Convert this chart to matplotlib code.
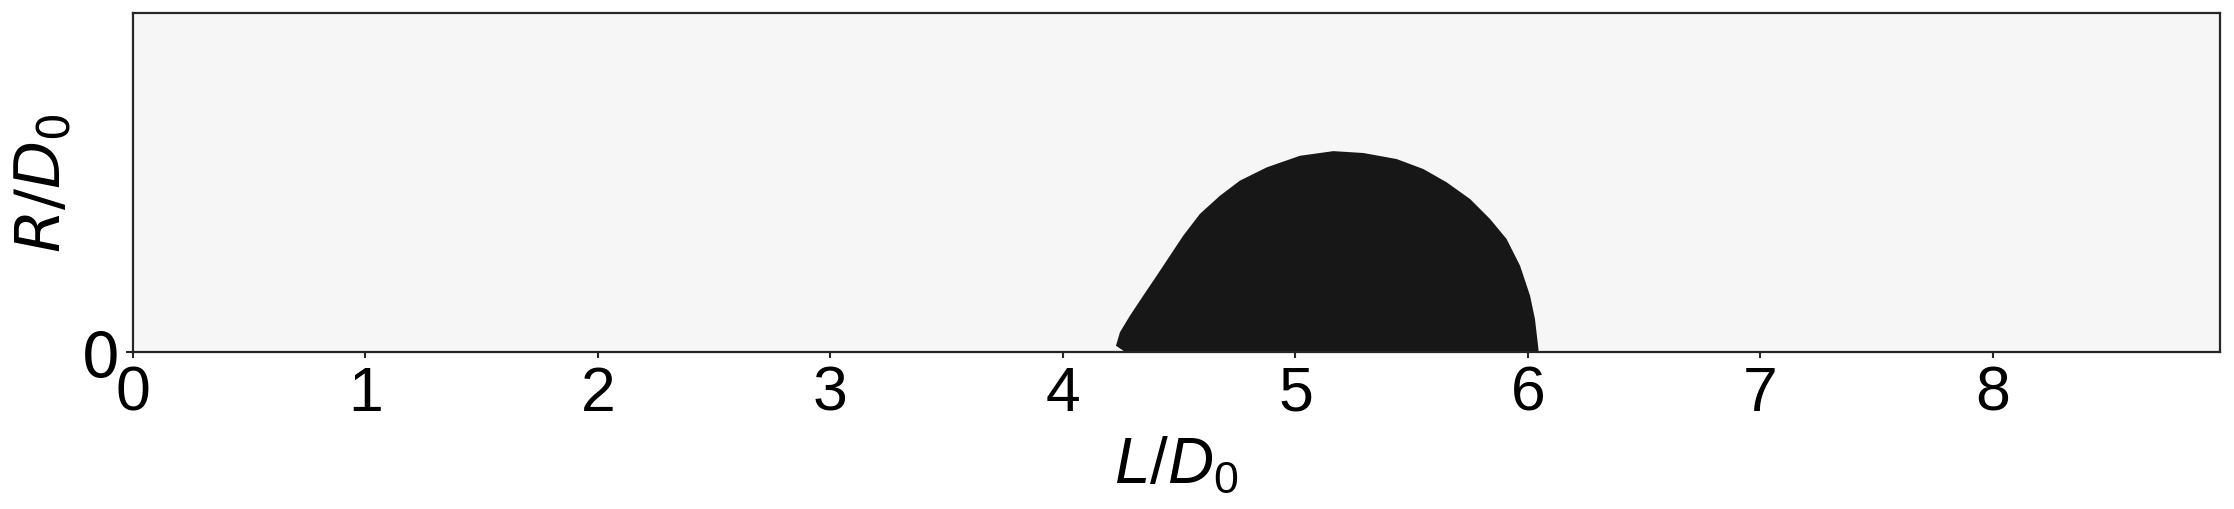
import numpy as np
import matplotlib.pyplot as plt

# droplet profile (L/D0, R/D0)
L_prof = [4.228, 4.245, 4.288, 4.345, 4.403, 4.460, 4.517, 4.589, 4.675, 4.761,
          4.876, 5.019, 5.163, 5.292, 5.435, 5.550, 5.650, 5.751, 5.837, 5.908,
          5.966, 6.009, 6.030, 6.045]
R_prof = [0.027, 0.085, 0.156, 0.242, 0.328, 0.414, 0.500, 0.594, 0.672, 0.737,
          0.794, 0.844, 0.864, 0.856, 0.830, 0.787, 0.730, 0.658, 0.572, 0.486,
          0.371, 0.242, 0.142, 0.013]
x_ticks = [0, 1, 2, 3, 4, 5, 6, 7, 8]
y_ticks = [0]
x_max = 8.976
y_max = 1.458

plt.rcParams['mathtext.fontset'] = 'custom'
plt.rcParams['mathtext.rm'] = 'Liberation Sans'
plt.rcParams['mathtext.it'] = 'Liberation Sans:italic'

fig = plt.figure(figsize=(22.34, 5.1), dpi=100)
ax = fig.add_axes([0.0595, 0.3078, 0.9342, 0.6647])
ax.set_facecolor('#f6f6f6')

xs = [L_prof[0] + 0.04] + L_prof + [L_prof[-1]]
ys = [0.0] + R_prof + [0.0]
ax.fill(xs, ys, color='#171717', lw=0)

ax.set_xlim(0, x_max)
ax.set_ylim(0, y_max)
ax.set_xticks(x_ticks)
ax.set_yticks(y_ticks)
ax.set_xticklabels([str(t) for t in x_ticks], family='Liberation Sans', fontsize=45)
ax.set_yticklabels([str(t) for t in y_ticks], family='DejaVu Sans', fontsize=45)
ax.tick_params(axis='x', length=4.5, width=1.5, color='#262626', pad=4)
ax.tick_params(axis='y', length=5, width=1.5, color='#262626', pad=4)
for s in ax.spines.values():
    s.set_linewidth(1.6)
    s.set_color('#262626')

ax.set_xlabel(r'$L/D_0$', fontsize=46, math_fontfamily='custom', labelpad=7)
ax.set_ylabel(r'$R/D_0$', fontsize=45, math_fontfamily='dejavusans', labelpad=5)

fig.savefig('out.png', dpi=100)
